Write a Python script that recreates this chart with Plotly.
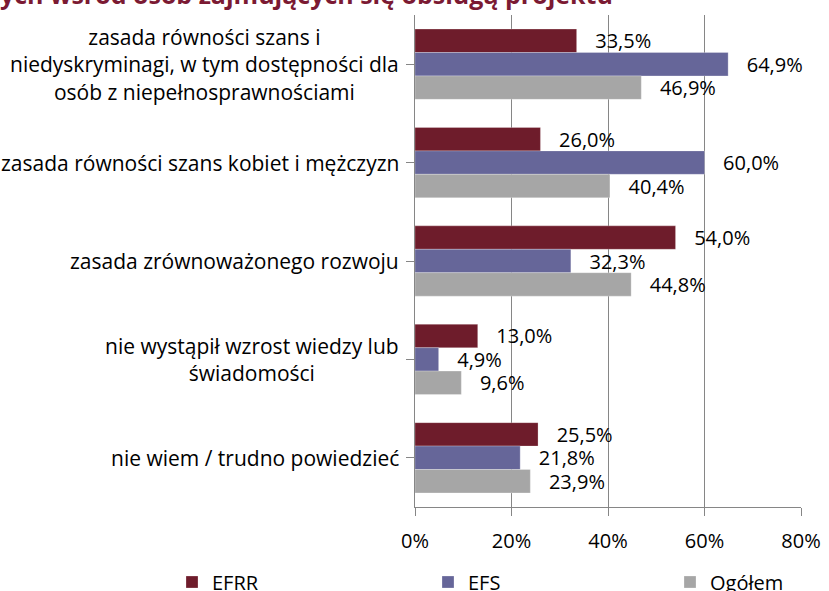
import plotly.graph_objects as go

categories = [
    "zasada równości szans i<br>niedyskryminagi, w tym dostępności dla<br>osób z niepełnosprawnościami",
    "zasada równości szans kobiet i mężczyzn",
    "zasada zrównoważonego rozwoju",
    "nie wystąpił wzrost wiedzy lub<br>świadomości",
    "nie wiem / trudno powiedzieć",
]
efrr = [33.5, 26.0, 54.0, 13.0, 25.5]
efs = [64.9, 60.0, 32.3, 4.9, 21.8]
ogolem = [46.9, 40.4, 44.8, 9.6, 23.9]
series_names = ["EFRR", "EFS", "Ogółem"]
x_ticks = [0, 20, 40, 60, 80]
title_text = "ych wśród osób zajmujących się obsługą projektu"

colors = ["#6E1C2B", "#666699", "#A6A6A6"]
FONT = "Open Sans"

W, H = 829, 591
L, R, T, B = 415, 28, 15, 84
PW, PH = W - L - R, H - T - B

def px_x(p):
    return (p - L) / PW

def px_y(p):
    return 1 + (T - p) / PH

def fmt(v):
    return "\u00a0\u00a0\u00a0" + f"{v:.1f}".replace(".", ",") + "%"

legend_ids = ["legend", "legend2", "legend3"]
legend_px = [172, 428, 670]

fig = go.Figure()
for name, vals, col, lid in zip(series_names, [efrr, efs, ogolem], colors, legend_ids):
    fig.add_trace(go.Bar(
        y=list(range(len(categories))), x=vals, name=name, orientation="h",
        marker=dict(color=col, line=dict(color="rgba(255,255,255,0.5)", width=0.5)),
        text=[fmt(v) for v in vals], textposition="outside",
        textfont=dict(family=FONT, size=20, color="#000000"),
        cliponaxis=False, constraintext="none", legend=lid,
    ))

for i, c in enumerate(categories):
    fig.add_annotation(
        x=px_x(401), xref="paper", y=i, yref="y", text=c, showarrow=False,
        xanchor="right", align="center", yanchor="middle",
        font=dict(family=FONT, size=21, color="#000000"),
    )

fig.add_annotation(
    x=px_x(-2), xref="paper", y=px_y(13), yref="paper",
    text="<b>" + title_text + "</b>", showarrow=False,
    xanchor="left", yanchor="bottom",
    font=dict(family=FONT, size=25, color="#7B1A33"),
)

legend_common = dict(
    orientation="h", yref="container", yanchor="middle", y=(H - 582) / H,
    xanchor="left",
    font=dict(family=FONT, size=20, color="#000000"),
    bgcolor="rgba(0,0,0,0)", borderwidth=0,
)

fig.update_layout(
    width=W, height=H,
    margin=dict(l=L, r=R, t=T, b=B, autoexpand=False),
    paper_bgcolor="white", plot_bgcolor="white",
    barmode="group", bargap=0.286, bargroupgap=0,
    font=dict(family=FONT, size=20, color="#000000"),
    showlegend=True,
    legend=dict(x=px_x(legend_px[0]), **legend_common),
    legend2=dict(x=px_x(legend_px[1]), **legend_common),
    legend3=dict(x=px_x(legend_px[2]), **legend_common),
    xaxis=dict(
        range=[0, 80], tickvals=x_ticks, ticktext=[f"{t}%" for t in x_ticks],
        showgrid=True, gridcolor="#868686", gridwidth=1,
        showline=True, linecolor="#868686", linewidth=1,
        ticks="outside", ticklen=8, tickcolor="#868686",
        ticklabelstandoff=8,
        zeroline=False, tickfont=dict(family=FONT, size=20),
        automargin=False, fixedrange=True,
    ),
    yaxis=dict(
        range=[len(categories) - 0.5, -0.5],
        tickvals=list(range(len(categories))), showticklabels=False,
        tickson="boundaries", ticks="outside", ticklen=8, tickcolor="#868686",
        showline=True, linecolor="#868686", linewidth=1,
        showgrid=False, zeroline=False, automargin=False, fixedrange=True,
    ),
)

fig.write_html(
    "out.html",
    config={"displayModeBar": False},
    post_script="document.body.style.margin='0';document.body.style.overflow='hidden';",
)
